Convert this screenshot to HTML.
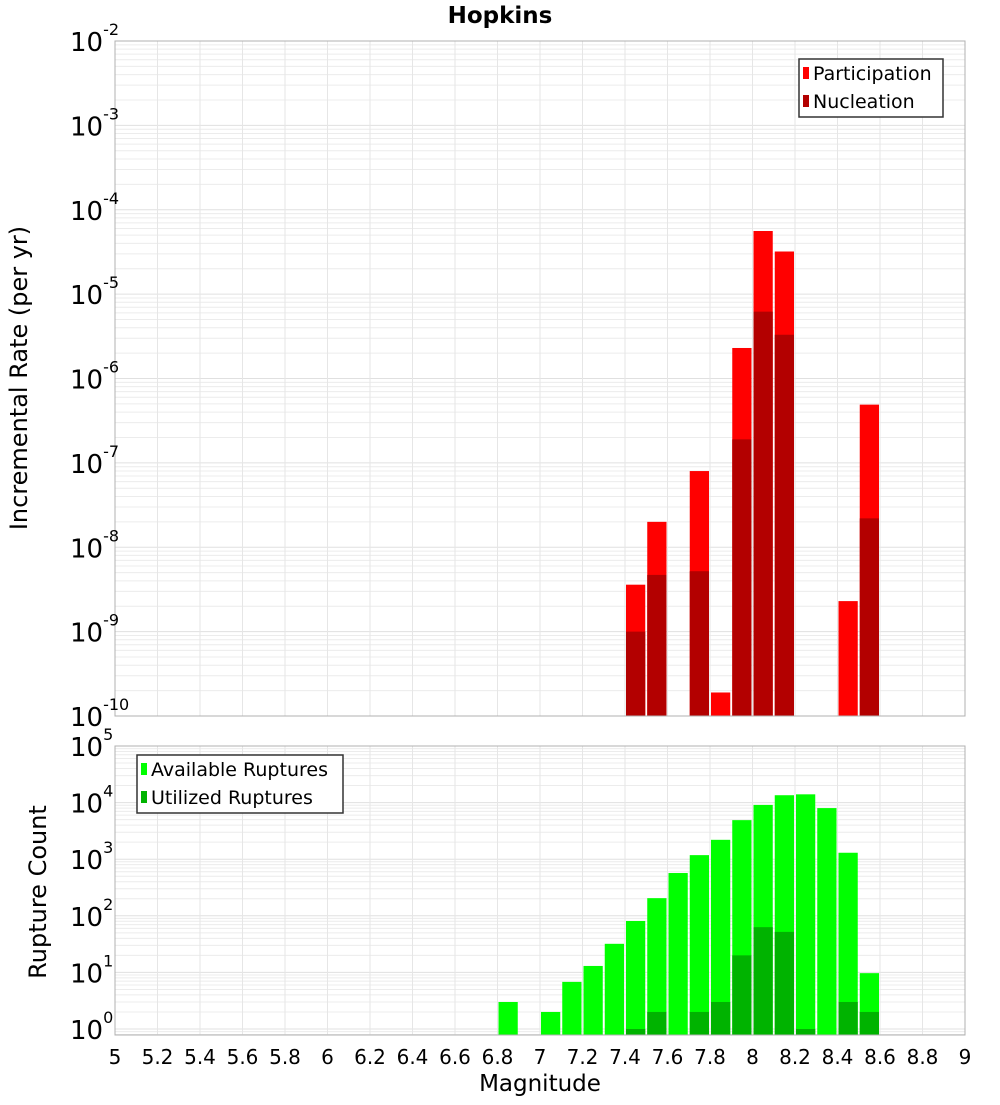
<!DOCTYPE html>
<html><head><meta charset="utf-8"><style>
body{margin:0;background:#fff;font-family:"Liberation Sans","DejaVu Sans",sans-serif}
svg text{font-family:"DejaVu Sans","Liberation Sans",sans-serif}
</style></head><body>
<svg id="c" width="1000" height="1100" xmlns="http://www.w3.org/2000/svg"></svg>
<script>
const mags=[6.8,7.0,7.1,7.2,7.3,7.4,7.5,7.6,7.7,7.8,7.9,8.0,8.1,8.2,8.3,8.4,8.5];
const partMags=[7.4,7.5,7.7,7.8,7.9,8.0,8.1,8.4,8.5];
const partVals=[3.6e-9,2.0e-8,8.0e-8,1.9e-10,2.3e-6,5.6e-5,3.2e-5,2.3e-9,4.9e-7];
const nuclMags=[7.4,7.5,7.7,7.9,8.0,8.1,8.5];
const nuclVals=[1.0e-9,4.7e-9,5.2e-9,1.9e-7,6.2e-6,3.3e-6,2.2e-8];
const availVals=[3,2,6.8,13,32,81,205,570,1180,2200,4900,9100,13500,14000,8000,1300,9.7];
const utilMags=[7.4,7.5,7.7,7.8,7.9,8.0,8.1,8.2,8.4,8.5];
const utilVals=[1,2,2,3,20,63,52,1,3,2];
const xTicks=[5,5.2,5.4,5.6,5.8,6,6.2,6.4,6.6,6.8,7,7.2,7.4,7.6,7.8,8,8.2,8.4,8.6,8.8,9];
const topExp=[-2,-3,-4,-5,-6,-7,-8,-9,-10];
const botExp=[0,1,2,3,4,5];

const svg=document.getElementById('c');const NS='http://www.w3.org/2000/svg';
function el(t,a,p){const e=document.createElementNS(NS,t);for(const k in a)e.setAttribute(k,a[k]);(p||svg).appendChild(e);return e;}
const X0=115,X1=965;
const x=m=>X0+(m-5)/4*(X1-X0);
function yTop(v){return 41+(-2-Math.log10(v))*(716-41)/8;}
function yBot(v){return 1029-Math.log10(v)*(1029-746)/5;}

function panel(name,top,bot,yf,lo,hi){
  const g=el('g',{},svg);
  el('rect',{x:X0,y:top,width:X1-X0,height:bot-top,fill:'#fff'},g);
  for(let e=lo;e<hi;e++)for(let k=1;k<10;k++){const yy=yf(k*Math.pow(10,e));if(yy<top||yy>bot)continue;
    el('line',{x1:X0,x2:X1,y1:yy,y2:yy,stroke:k==1?'#e0e0e0':'#ececec','stroke-width':1},g);}
  xTicks.forEach(t=>el('line',{x1:x(t),x2:x(t),y1:top,y2:bot,stroke:'#e6e6e6'},g));
  return g;
}
const g1=panel('rate-plot',41,716,yTop,-10,-2);
const g2=panel('count-plot',746,1035,yBot,-1,5);
function bars(g,ms,vs,yf,base,col,nm){ms.forEach((m,i)=>{const y=yf(vs[i]);
  const r=el('rect',{x:x(m)+1,y:y,width:x(m+0.1)-x(m)-2,height:base-y,fill:col},g);
  });}
bars(g1,partMags,partVals,yTop,716,'#ff0000','participation-bar');
bars(g1,nuclMags,nuclVals,yTop,716,'#b30000','nucleation-bar');
bars(g2,mags,availVals,yBot,1035,'#00ff00','available-bar');
bars(g2,utilMags,utilVals,yBot,1035,'#00b300','utilized-bar');
el('rect',{x:X0,y:41,width:X1-X0,height:675,fill:'none',stroke:'#b0b0b0'},svg);
el('rect',{x:X0,y:746,width:X1-X0,height:289,fill:'none',stroke:'#b0b0b0'},svg);

function tlabel(exp,y,nm){const t=el('text',{x:70,y:y+10,'font-size':26,fill:'#000'});
  t.textContent='10';const s=el('tspan',{dy:-16,'font-size':16},t);s.textContent=String(exp);}
topExp.forEach(e=>tlabel(e,yTop(Math.pow(10,e)),'y-tick-label'));
botExp.forEach(e=>tlabel(e,yBot(Math.pow(10,e)),'y-tick-label'));
xTicks.forEach(t=>{const tx=el('text',{x:x(t),y:1064,'font-size':20,'text-anchor':'middle'});tx.textContent=String(t);});

function txt(s,a,nm){const t=el('text',a);t.textContent=s;return t;}
txt('Hopkins',{x:500,y:23,'font-size':23,'font-weight':'bold','text-anchor':'middle'},'chart-title');
txt('Magnitude',{x:540,y:1091,'font-size':23,'text-anchor':'middle'},'x-axis-title');
txt('Incremental Rate (per yr)',{x:27,y:378,'font-size':24,'text-anchor':'middle',transform:'rotate(-90 27 378)'},'y-axis-title-rate');
txt('Rupture Count',{x:46,y:892,'font-size':24,'text-anchor':'middle',transform:'rotate(-90 46 892)'},'y-axis-title-count');

function legend(x0,y0,w,items,nm){const g=el('g',{});
  el('rect',{x:x0,y:y0,width:w,height:58,fill:'#fff',stroke:'#333','stroke-width':1.5},g);
  items.forEach((it,i)=>{el('rect',{x:x0+4,y:y0+8+i*28,width:6,height:12,fill:it[1]},g);
    const t=el('text',{x:x0+14,y:y0+21+i*28,'font-size':19},g);t.textContent=it[0];});}
legend(799,59,144,[['Participation','#ff0000'],['Nucleation','#b30000']],'legend-rate');
legend(137,755,206,[['Available Ruptures','#00ff00'],['Utilized Ruptures','#00b300']],'legend-count');
</script>
</body></html>
